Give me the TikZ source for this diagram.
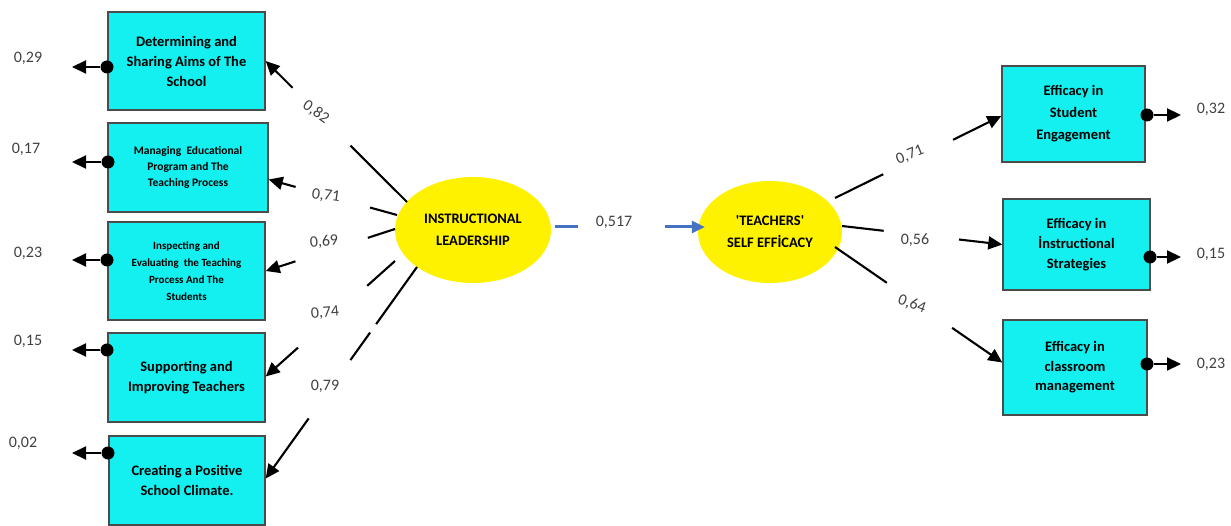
\documentclass[tikz,border=0pt]{standalone}
\usepackage{fontspec}
\setmainfont{Carlito}
\usetikzlibrary{arrows.meta,calc,shapes.geometric}
\definecolor{boxcyan}{RGB}{20,240,240}
\definecolor{boxedge}{RGB}{75,75,75}
\definecolor{numgray}{RGB}{64,64,64}
\definecolor{pathblue}{RGB}{68,114,196}
\begin{document}
\begin{tikzpicture}[x=1pt,y=-1pt,
  ind/.style={draw=boxedge, line width=1.4pt, fill=boxcyan, align=center, inner sep=0pt, text=black},
  lat/.style={ellipse, fill=yellow, align=center, inner sep=0pt, font=\bfseries\fontsize{14.5}{22}\selectfont},
  num/.style={text=numgray, inner sep=0pt, font=\fontsize{16}{17}\selectfont},
  load/.style={line width=2.1pt},
  loadarr/.style={line width=2.1pt, -{Triangle[length=14pt,width=13pt]}},
  dot/.style={circle, fill=black, minimum size=13pt, inner sep=0pt},
  errarr/.style={line width=2.1pt, -{Triangle[length=14pt,width=13pt]}},
  bluearr/.style={line width=3pt, draw=pathblue, -{Triangle[length=13pt,width=12pt]}},
  blueline/.style={line width=3pt, draw=pathblue}
]
\useasboundingbox (0,0) rectangle (1231,526);

% indicator boxes, left
\node[ind, minimum width=157pt, minimum height=98pt, font=\bfseries\fontsize{14.5}{20}\selectfont] (b1) at (186.5,61) {Determining and\\Sharing Aims of The\\School};
\node[ind, minimum width=160pt, minimum height=89pt, font=\bfseries\fontsize{11.5}{16}\selectfont] (b2) at (188,167.5) {Managing\ \ Educational\\Program\ and The\\Teaching Process};
\node[ind, minimum width=157pt, minimum height=98pt, font=\bfseries\fontsize{11}{17}\selectfont] (b3) at (186.5,271) {Inspecting and\\Evaluating\ \ the Teaching\\Process And The\\Students};
\node[ind, minimum width=157pt, minimum height=89pt, font=\bfseries\fontsize{14.5}{20}\selectfont] (b4) at (186.5,377.5) {Supporting and\\Improving Teachers};
\node[ind, minimum width=156pt, minimum height=89pt, font=\bfseries\fontsize{14.5}{19.5}\selectfont] (b5) at (187,480.5) {Creating a Positive\\School Climate.};

% indicator boxes, right
\node[ind, minimum width=143pt, minimum height=96pt, font=\bfseries\fontsize{14.5}{22}\selectfont] (r1) at (1073.5,114) {Efficacy in\\Student\\Engagement};
\node[ind, minimum width=147pt, minimum height=91pt, font=\bfseries\fontsize{14.5}{20}\selectfont] (r2) at (1076.5,244.5) {Efficacy in\\İnstructional\\Strategies};
\node[ind, minimum width=144pt, minimum height=95pt, font=\bfseries\fontsize{14.5}{19.5}\selectfont] (r3) at (1075,367.5) {Efficacy in\\classroom\\management};

% latent variables
\node[lat, minimum width=156pt, minimum height=106pt] (il) at (473,230) {INSTRUCTIONAL\\LEADERSHIP};
\node[lat, minimum width=144pt, minimum height=102pt] (tse) at (770,232) {\textquotesingle TEACHERS\textquotesingle\\SELF EFFİCACY};

% structural path
\coordinate (bs) at ($(il.east)+(4,-3)$);
\coordinate (be) at ($(tse.west)+(7,-5)$);
\draw[blueline] (bs) -- ($(bs)!0.153!(be)$);
\draw[bluearr] ($(bs)!0.733!(be)$) -- (be);
\node[num] (p0) at (614,222) {0,517};

% left loadings
\coordinate (s1) at ($(il.center)+(-66,-28)$);
\coordinate (e1) at (b1.east);
\draw[load] (s1) -- ($(s1)!0.40!(e1)$);
\draw[loadarr] ($(s1)!0.81!(e1)$) -- (e1);
\node[num, rotate=-35] (l1) at (316,112) {0,82};

\coordinate (s2) at ($(il.center)+(-76,-15)$);
\coordinate (e2) at ($(b2.east)+(0,12)$);
\draw[load] (s2) -- ($(s2)!0.21!(e2)$);
\draw[loadarr] ($(s2)!0.79!(e2)$) -- (e2);
\node[num, rotate=-8] (l2) at (326,196) {0,71};

\coordinate (s3) at ($(il.center)+(-78,-1)$);
\coordinate (e3) at (b3.east);
\draw[load] (s3) -- ($(s3)!0.21!(e3)$);
\draw[loadarr] ($(s3)!0.77!(e3)$) -- (e3);
\node[num, rotate=5] (l3) at (324,242) {0,69};

\coordinate (s4) at ($(il.center)+(-78,31)$);
\coordinate (e4) at ($(b4.east)+(0,-1)$);
\draw[load] (s4) -- ($(s4)!0.215!(e4)$);
\draw[loadarr] ($(s4)!0.75!(e4)$) -- (e4);
\node[num, rotate=5] (l4) at (325,313) {0,74};

\coordinate (s5) at ($(il.center)+(-56,37)$);
\coordinate (e5) at ($(b5.east)+(0,-2)$);
\draw[load] (s5) -- ($(s5)!0.27!(e5)$);
\draw[load] ($(s5)!0.31!(e5)$) -- ($(s5)!0.44!(e5)$);
\draw[loadarr] ($(s5)!0.716!(e5)$) -- (e5);
\node[num] (l5) at (325,386) {0,79};

% right loadings
\coordinate (t1) at ($(tse.center)+(65,-34)$);
\coordinate (f1) at ($(r1.west)+(0,2)$);
\draw[load] (t1) -- ($(t1)!0.29!(f1)$);
\draw[loadarr] ($(t1)!0.71!(f1)$) -- (f1);
\node[num, rotate=22] (m1) at (910,155) {0,71};

\coordinate (t2) at ($(tse.center)+(72,-6)$);
\coordinate (f2) at ($(r2.west)+(0,0)$);
\draw[load] (t2) -- ($(t2)!0.26!(f2)$);
\draw[loadarr] ($(t2)!0.73!(f2)$) -- (f2);
\node[num] (m2) at (915,240) {0,56};

\coordinate (t3) at ($(tse.center)+(65,15)$);
\coordinate (f3) at ($(r3.west)+(0,-5)$);
\draw[load] (t3) -- ($(t3)!0.31!(f3)$);
\draw[loadarr] ($(t3)!0.70!(f3)$) -- (f3);
\node[num, rotate=-20] (m3) at (912,304) {0,64};

% error terms, left
\node[dot] (d1) at (107,67) {};
\node[dot] (d2) at (108,162) {};
\node[dot] (d3) at (107,260) {};
\node[dot] (d4) at (107,350) {};
\node[dot] (d5) at (108,453) {};
\coordinate (x1) at (72,67);
\coordinate (x2) at (72,162);
\coordinate (x3) at (72,260);
\coordinate (x4) at (72,350);
\coordinate (x5) at (72,453);
\draw[errarr] (d1) -- (x1);
\draw[errarr] (d2) -- (x2);
\draw[errarr] (d3) -- (x3);
\draw[errarr] (d4) -- (x4);
\draw[errarr] (d5) -- (x5);
\node[num] (v1) at (28,58) {0,29};
\node[num] (v2) at (26,149) {0,17};
\node[num] (v3) at (28,253) {0,23};
\node[num] (v4) at (28,341) {0,15};
\node[num] (v5) at (23,443) {0,02};

% error terms, right
\node[dot] (g1) at (1147,115) {};
\node[dot] (g2) at (1150,257) {};
\node[dot] (g3) at (1147,364) {};
\coordinate (y1) at (1181,115);
\coordinate (y2) at (1181,257);
\coordinate (y3) at (1181,364);
\draw[errarr] (g1) -- (y1);
\draw[errarr] (g2) -- (y2);
\draw[errarr] (g3) -- (y3);
\node[num] (w1) at (1211,109) {0,32};
\node[num] (w2) at (1211,254) {0,15};
\node[num] (w3) at (1211,364) {0,23};
\end{tikzpicture}
\end{document}
